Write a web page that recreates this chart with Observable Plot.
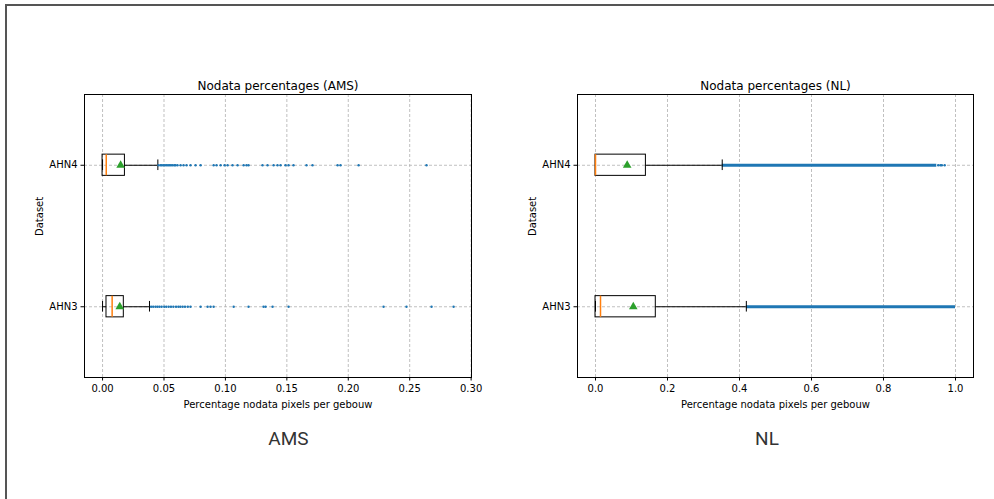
<!DOCTYPE html>
<html><head><meta charset="utf-8">
<script src="https://cdn.jsdelivr.net/npm/d3@7"></script>
<script src="https://cdn.jsdelivr.net/npm/@observablehq/plot@0.6"></script>
<style>
html,body{margin:0;padding:0;background:#fff;}
#page{position:relative;width:994px;height:499px;overflow:hidden;background:#fff;}
#border{position:absolute;left:5px;top:4px;width:1200px;height:800px;border-top:2px solid #555;border-left:2px solid #555;}
.chart{position:absolute;top:0;}
.cap{position:absolute;font-family:Roboto,sans-serif;font-size:19px;color:#333;transform:translate(-50%,-50%);white-space:nowrap;}
</style></head>
<body>
<div id="page">
  <div id="border"></div>
  <div id="left" class="chart" style="left:0px"></div>
  <div id="right" class="chart" style="left:497px"></div>
  <div class="cap" style="left:288.5px;top:438px">AMS</div>
  <div class="cap" style="left:767px;top:438px">NL</div>
</div>
<script>
// Categories (box positions 1 and 2, bottom to top)
const categories = ["AHN3", "AHN4"];

// AMS box statistics (index 0 = AHN3, 1 = AHN4)
const amsQ1 = [0.0032, 0.0];
const amsMedian = [0.0078, 0.003];
const amsQ3 = [0.0173, 0.0182];
const amsMean = [0.014, 0.0147];
const amsWhiskerLo = [0.0, 0.0];
const amsWhiskerHi = [0.0382, 0.045];
const amsFliersAHN3 = [0.0395, 0.0412, 0.0431, 0.0447, 0.0463, 0.0481, 0.0502, 0.0519, 0.0538, 0.0557, 0.0576, 0.0598, 0.0617, 0.0633, 0.0652, 0.0671, 0.0694, 0.0716,
  0.0798, 0.0855, 0.0879, 0.0904, 0.1067, 0.1188, 0.131, 0.1327, 0.1384, 0.1514, 0.2287, 0.2474, 0.2678, 0.2857];
const amsFliersAHN4 = [0.0456, 0.0472, 0.0483, 0.0496, 0.0508, 0.0521, 0.0533, 0.0545, 0.0557, 0.057, 0.0584, 0.0594, 0.061, 0.0635, 0.0659, 0.0684, 0.0716, 0.0757, 0.0798,
  0.0904, 0.0928, 0.0961, 0.0993, 0.1018, 0.1058, 0.1099, 0.1148, 0.1172, 0.1188, 0.1302, 0.1343, 0.1392, 0.1424, 0.1449, 0.1489, 0.1514, 0.1554,
  0.166, 0.1709, 0.1913, 0.1937, 0.2084, 0.2637];

// NL box statistics (index 0 = AHN3, 1 = AHN4)
const nlQ1 = [0.0, 0.0];
const nlMedian = [0.0139, 0.0];
const nlQ3 = [0.1675, 0.14];
const nlMean = [0.105, 0.088];
const nlWhiskerLo = [0.0, 0.0];
const nlWhiskerHi = [0.419, 0.352];
// Outliers so dense they merge into a continuous band: [from, to]
const nlDenseFliersFrom = [0.419, 0.352];
const nlDenseFliersTo = [1.0, 0.948];
const nlFliersAHN3 = [];
const nlFliersAHN4 = [0.952, 0.958, 0.962, 0.97];

// Tick labels
const amsTicks = [0, 0.05, 0.1, 0.15, 0.2, 0.25, 0.3];
const nlTicks = [0, 0.2, 0.4, 0.6, 0.8, 1.0];

function boxChart(o) {
  const stats = categories.map((c, i) => ({
    p: i + 1, q1: o.q1[i], med: o.median[i], q3: o.q3[i], mean: o.mean[i], lo: o.lo[i], hi: o.hi[i]
  }));
  const fl = [];
  categories.forEach((c, i) => o.fliers[i].forEach(v => fl.push({p: i + 1, v})));
  const bands = o.bandFrom ? categories.map((c, i) => ({p: i + 1, a: o.bandFrom[i], b: o.bandTo[i]})) : [];
  const boxHalf = 0.075, capHalf = 0.0375;
  const gridStyle = {stroke: "#b0b0b0", strokeOpacity: 1, strokeDasharray: "3,2", strokeWidth: 0.8};
  return Plot.plot({
    width: o.width, height: 430,
    marginLeft: o.ml, marginRight: o.mr, marginTop: 94, marginBottom: 53,
    style: {fontFamily: "'DejaVu Sans', sans-serif", fontSize: "10px", background: "transparent", color: "#000", overflow: "visible"},
    x: {domain: o.domain},
    y: {domain: [0.5, 2.5]},
    marks: [
      Plot.gridX({ticks: o.ticks, ...gridStyle}),
      Plot.gridY({ticks: [1, 2], ...gridStyle}),
      Plot.ruleY(bands, {y: "p", x1: "a", x2: "b", stroke: "#1f77b4", strokeWidth: 3}),
      Plot.ruleY(stats, {y: "p", x1: "q3", x2: "hi", stroke: "black", strokeWidth: 1}),
      Plot.ruleY(stats, {y: "p", x1: "lo", x2: "q1", stroke: "black", strokeWidth: 1}),
      Plot.ruleX(stats, {x: "hi", y1: d => d.p - capHalf, y2: d => d.p + capHalf, stroke: "black", strokeWidth: 1}),
      Plot.ruleX(stats, {x: "lo", y1: d => d.p - capHalf, y2: d => d.p + capHalf, stroke: "black", strokeWidth: 1}),
      Plot.rect(stats, {x1: "q1", x2: "q3", y1: d => d.p - boxHalf, y2: d => d.p + boxHalf, fill: "none", stroke: "black", strokeWidth: 1}),
      Plot.ruleX(stats, {x: "med", y1: d => d.p - boxHalf, y2: d => d.p + boxHalf, stroke: "#ff7f0e", strokeWidth: 1.5}),
      Plot.dot(stats, {x: "mean", y: "p", symbol: "triangle", r: 3.2, fill: "#2ca02c", stroke: "none"}),
      Plot.dot(fl, {x: "v", y: "p", r: 1.2, fill: "#1f77b4", stroke: "none"}),
      Plot.frame({stroke: "black", strokeWidth: 1}),
      Plot.axisX({ticks: o.ticks, tickFormat: o.fmt, tickSize: 3.5, tickPadding: 3.5, label: null}),
      Plot.axisY({ticks: [1, 2], tickFormat: d => categories[d - 1], tickSize: 3.5, tickPadding: 3.5, label: null}),
      Plot.text([o.title], {text: d => d, frameAnchor: "top", lineAnchor: "middle", dy: -8, fontSize: 12}),
      Plot.text(["Percentage nodata pixels per gebouw"], {text: d => d, frameAnchor: "bottom", lineAnchor: "middle", dy: 27, fontSize: 10}),
      Plot.text(["Dataset"], {text: d => d, frameAnchor: "left", lineAnchor: "middle", dx: -45, rotate: -90, fontSize: 10})
    ]
  });
}

document.getElementById("left").append(boxChart({
  width: 497, ml: 84, mr: 26, domain: [-0.0147, 0.3003], ticks: amsTicks, fmt: d3.format(".2f"),
  title: "Nodata percentages (AMS)",
  q1: amsQ1, median: amsMedian, q3: amsQ3, mean: amsMean, lo: amsWhiskerLo, hi: amsWhiskerHi,
  fliers: [amsFliersAHN3, amsFliersAHN4]
}));
document.getElementById("right").append(boxChart({
  width: 497, ml: 80, mr: 21, domain: [-0.05, 1.05], ticks: nlTicks, fmt: d3.format(".1f"),
  title: "Nodata percentages (NL)",
  q1: nlQ1, median: nlMedian, q3: nlQ3, mean: nlMean, lo: nlWhiskerLo, hi: nlWhiskerHi,
  fliers: [nlFliersAHN3, nlFliersAHN4], bandFrom: nlDenseFliersFrom, bandTo: nlDenseFliersTo
}));
</script>
</body></html>
